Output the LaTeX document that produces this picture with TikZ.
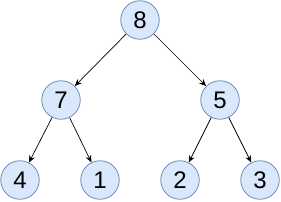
\documentclass[tikz,border=0pt]{standalone}
\usepackage{fontspec}
\setmainfont{Liberation Sans}
\usetikzlibrary{arrows.meta}
\definecolor{keyfill}{HTML}{DAE8FC}
\definecolor{keyline}{HTML}{6C8EBF}
\begin{document}
\begin{tikzpicture}[x=1pt,y=-1pt,
  key/.style={circle,draw=keyline,fill=keyfill,line width=0.8pt,minimum size=38.5pt,inner sep=0pt,font=\fontsize{24}{26}\selectfont},
  edge/.style={-{Stealth[length=7pt,width=6pt]},line width=0.7pt}]
\useasboundingbox (0,0) rectangle (281,201);
% levels of the tree
\node[key] (n8) at (140,20) {8};
\node[key] (n7) at (61,100) {7};
\node[key] (n5) at (220,100) {5};
\node[key] (n4) at (20,180) {4};
\node[key] (n1) at (100,180) {1};
\node[key] (n2) at (180,180) {2};
\node[key] (n3) at (260,180) {3};
\draw[edge] (n8) -- (n7);
\draw[edge] (n8) -- (n5);
\draw[edge] (n7) -- (n4);
\draw[edge] (n7) -- (n1);
\draw[edge] (n5) -- (n2);
\draw[edge] (n5) -- (n3);
\end{tikzpicture}
\end{document}
